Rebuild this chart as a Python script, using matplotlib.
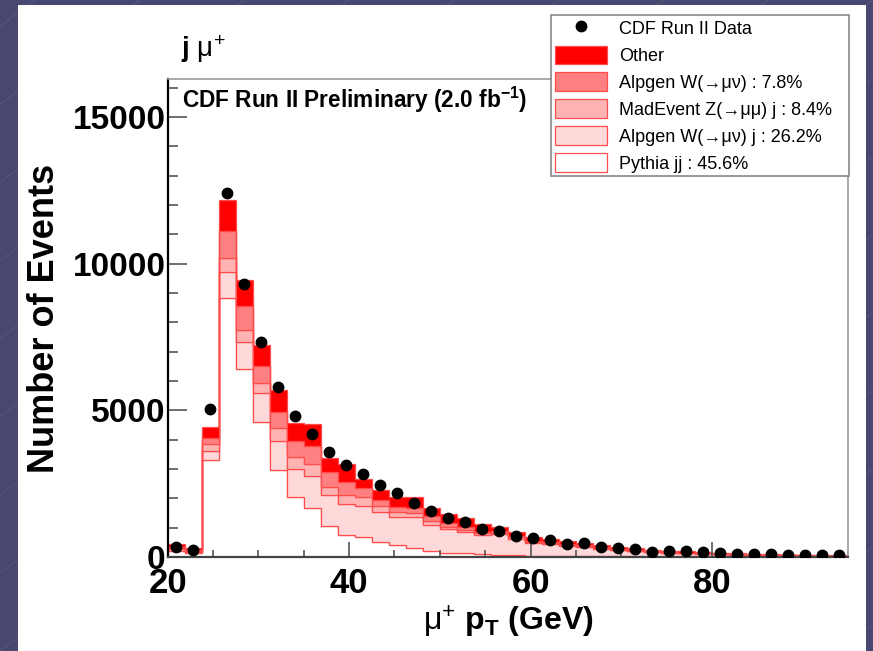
import numpy as np
import matplotlib
matplotlib.use("Agg")
import matplotlib.pyplot as plt
from matplotlib.patches import Rectangle, Patch
from matplotlib.lines import Line2D

plt.rcParams['font.family'] = ['Liberation Sans', 'DejaVu Sans']
plt.rcParams['mathtext.fontset'] = 'custom'
plt.rcParams['mathtext.rm'] = 'Liberation Sans'
plt.rcParams['mathtext.it'] = 'Liberation Sans:italic'
plt.rcParams['mathtext.bf'] = 'Liberation Sans:bold'

# 40 bins of muon pT between 20 and 95 GeV
edges = np.linspace(20, 95, 41)

# stacked MC components, bottom to top (events per bin)
pythia_jj = [200, 140, 3305, 8840, 6410, 4590, 2950, 2035, 1680, 1070,
             750, 690, 520, 410, 295, 205, 150, 125, 100, 75,
             60, 50, 40, 35, 30, 25, 20, 18, 15, 12,
             10, 8, 7, 6, 5, 5, 4, 4, 3, 3]
alpgen_wj = [60, 40, 305, 870, 910, 990, 1015, 965, 1080, 1045,
             1055, 1050, 1030, 965, 1055, 885, 795, 715, 650, 705,
             570, 440, 395, 355, 315, 260, 205, 180, 148, 130,
             118, 104, 87, 75, 66, 56, 50, 43, 37, 34]
madevent_z = [30, 20, 240, 500, 430, 340, 420, 420, 400, 280,
              310, 315, 180, 170, 160, 150, 90, 80, 55, 50,
              40, 35, 30, 30, 25, 20, 15, 14, 12, 10,
              10, 8, 7, 6, 5, 4, 4, 4, 3, 3]
alpgen_w = [40, 30, 220, 900, 815, 600, 545, 535, 620, 490,
            455, 305, 220, 170, 150, 160, 115, 115, 55, 50,
            50, 35, 35, 30, 30, 25, 20, 18, 15, 13,
            12, 10, 9, 8, 7, 6, 5, 4, 4, 3]
other = [130, 90, 350, 1060, 875, 705, 770, 600, 740, 500,
         590, 300, 340, 315, 375, 280, 305, 285, 265, 160,
         140, 120, 110, 100, 90, 80, 70, 60, 50, 45,
         40, 35, 30, 25, 22, 19, 17, 15, 13, 12]

data = [350, 240, 5040, 12420, 9310, 7320, 5800, 4815, 4180, 3590,
        3135, 2820, 2455, 2170, 1830, 1570, 1330, 1195, 970, 870,
        720, 635, 595, 450, 465, 350, 305, 265, 170, 190,
        190, 170, 140, 105, 90, 90, 85, 80, 75, 55]

components = [
    (pythia_jj, "white", "Pythia jj : 45.6%"),
    (alpgen_wj, "#ffd9d9", "Alpgen W(\u2192\u03bc\u03bd) j : 26.2%"),
    (madevent_z, "#ffb3b3", "MadEvent Z(\u2192\u03bc\u03bc) j : 8.4%"),
    (alpgen_w, "#ff8080", "Alpgen W(\u2192\u03bc\u03bd) : 7.8%"),
    (other, "#ff0000", "Other"),
]

fig = plt.figure(figsize=(8.73, 6.51), dpi=100)
fig.patch.set_facecolor("#47476f")
# slide panel
fig.patches.append(Rectangle((18 / 873, 0), 848 / 873, 646 / 651,
                             transform=fig.transFigure, facecolor="white",
                             edgecolor="none", zorder=-1))
for k in range(-8, 9):
    x0 = k * 0.12
    fig.lines.append(Line2D([x0, x0 + 1], [0, 1], transform=fig.transFigure,
                            color="#58587f", lw=0.6, zorder=-2))

ax = fig.add_axes([167.7 / 873, 1 - 557 / 651, 680.3 / 873, 478 / 651])

bottom = np.zeros(len(edges) - 1)
for vals, col, lab in components:
    top = bottom + np.array(vals)
    ax.stairs(top, edges, baseline=bottom.copy(), fill=True,
              facecolor=col, edgecolor="#ff4d4d", lw=0.9)
    bottom = top

centers = 0.5 * (edges[:-1] + edges[1:])
ax.plot(centers, data, "o", color="black", ms=7.5, zorder=5)

ax.set_xlim(20, 95)
ax.set_ylim(0, 16300)
ax.set_xticks([20, 40, 60, 80])
ax.set_xticks(np.arange(25, 95, 5), minor=True)
ax.set_yticks([0, 5000, 10000, 15000])
ax.set_yticks(np.arange(0, 16300, 1000), minor=True)

ax.tick_params(axis="both", which="both", direction="in", color="#555555",
               width=1.2, top=False, right=False)
ax.tick_params(axis="y", which="major", length=13.7, pad=1.5, labelsize=24)
ax.tick_params(axis="y", which="minor", length=7)
ax.tick_params(axis="x", which="major", length=11, pad=7, labelsize=25)
ax.tick_params(axis="x", which="minor", length=5)
for lbl in ax.get_xticklabels() + ax.get_yticklabels():
    lbl.set_fontweight("bold")

ax.spines["left"].set_color("black")
ax.spines["left"].set_linewidth(1.6)
ax.spines["bottom"].set_color("#444444")
ax.spines["bottom"].set_linewidth(1.6)
ax.spines["top"].set_color("#999999")
ax.spines["right"].set_color("#999999")
ax.spines["top"].set_linewidth(1.2)
ax.spines["right"].set_linewidth(1.2)

ax.set_xlabel(r"$\mathrm{\mu}^{+}$ $\mathbf{p}_{\mathbf{T}}$ (GeV)",
              fontsize=23, fontweight="bold", labelpad=3)
ax.set_ylabel("Number of Events", fontsize=26, fontweight="bold", labelpad=8)

fig.text(181 / 873, 1 - 57 / 651, r"j $\mathrm{\mu}^{+}$", fontsize=20,
         fontweight="bold", va="baseline", ha="left")
fig.text(182 / 873, 1 - 108 / 651, r"CDF Run II Preliminary (2.0 fb$^{\mathbf{-1}}$)",
         fontsize=16.3, fontweight="bold", va="baseline", ha="left")

handles = [Line2D([], [], ls="none", marker="o", color="black", ms=7.5)]
labels = ["CDF Run II Data"]
for vals, col, lab in components[::-1]:
    handles.append(Patch(facecolor=col, edgecolor="#ff4d4d", lw=0.9))
    labels.append(lab)

leg = ax.legend(handles, labels, loc="upper left",
                bbox_to_anchor=(551 / 873, 1 - 175 / 651, 298 / 873, 160 / 651),
                bbox_transform=fig.transFigure, mode="expand",
                fontsize=13, handlelength=2.9, handleheight=1.2,
                handletextpad=0.66, labelspacing=0.42, borderpad=0.2,
                borderaxespad=0, fancybox=False, framealpha=1,
                edgecolor="#888888")
leg.get_frame().set_linewidth(1.2)
leg.set_zorder(10)

fig.savefig("out.png", dpi=100, facecolor=fig.get_facecolor())
